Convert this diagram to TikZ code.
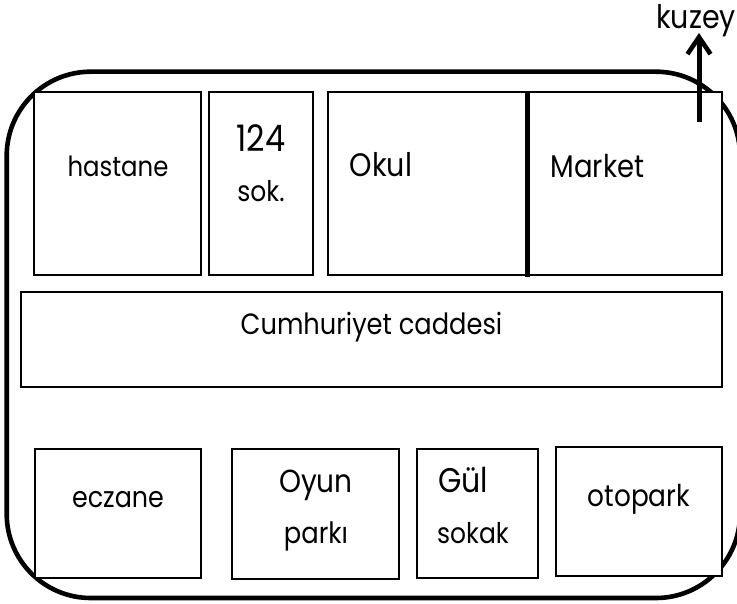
\documentclass[tikz,border=0pt]{standalone}
\usepackage{fontspec}
\usepackage{graphicx}
\usetikzlibrary{arrows.meta}
\setmainfont{Poppins}
\newcommand{\tall}[1]{\scalebox{1}[1.14]{#1}}
\tikzset{
  box/.style={draw=black,fill=white,line width=2pt,inner sep=0pt,outer sep=0pt,anchor=north west},
  lbl/.style={font=\fontsize{#1}{#1}\selectfont,text=black,inner sep=0pt,anchor=base},
  thick line/.style={line width=4.6pt,draw=black}
}
\begin{document}
\begin{tikzpicture}[x=1pt,y=-1pt]
\useasboundingbox (0,0) rectangle (737,604);
\begin{scope}
\clip (0,0) rectangle (737,604);
\draw[line width=4.6pt,rounded corners=84pt] (6.7,71.7) rectangle (740,598);
\end{scope}
\node[box,minimum width=166.5pt,minimum height=182.5pt] (a) at (34.3,92.4) {};
\node[box,minimum width=103.6pt,minimum height=182.5pt] (b) at (209.4,92.4) {};
\node[box,minimum width=199.6pt,minimum height=182.5pt] (c) at (327.7,92.4) {};
\node[box,minimum width=194.4pt,minimum height=182.5pt] (d) at (527.3,92.4) {};
\node[box,minimum width=700.8pt,minimum height=95pt] (e) at (21,291.7) {};
\node[box,minimum width=166.6pt,minimum height=129pt] (f) at (34.6,449) {};
\node[box,minimum width=167pt,minimum height=129.5pt] (g) at (232.4,449) {};
\node[box,minimum width=121.6pt,minimum height=129.5pt] (h) at (416.6,448.5) {};
\node[box,minimum width=166pt,minimum height=129pt] (i) at (555.7,447) {};
\coordinate (ct) at (c.north east);
\coordinate (cb) at ([yshift=-2pt]c.south east);
\draw[thick line] (ct) -- (cb);
\node[lbl=24.4] (t1) at (118,177) {\tall{hastane}};
\node[lbl=32] (t2) at (261,152) {\tall{124}};
\node[lbl=25] (t3) at (261,202) {\tall{sok.}};
\node[lbl=28.5] (t4) at (381,177) {\tall{Okul}};
\node[lbl=27.5] (t5) at (597.5,178) {\tall{Market}};
\node[lbl=25.7] (t6) at (371.5,335) {\tall{Cumhuriyet caddesi}};
\node[lbl=25.4] (t7) at (118,507) {\tall{eczane}};
\node[lbl=28] (t8) at (316,492) {\tall{Oyun}};
\node[lbl=25.8] (t9) at (316,543) {\tall{parkı}};
\node[lbl=30] (t10) at (463,492) {\tall{Gül}};
\node[lbl=25] (t11) at (473,543) {\tall{sokak}};
\node[lbl=26.4] (t12) at (639,506) {\tall{otopark}};
\node[lbl=28.5] (k) at (696,29) {\tall{kuzey}};
\coordinate (s) at (699,122);
\coordinate (t) at (699,33);
\draw[line width=5pt,-{Straight Barb[length=17pt,width=23pt,line width=4.6pt]}] (s) -- (t);
\end{tikzpicture}
\end{document}
